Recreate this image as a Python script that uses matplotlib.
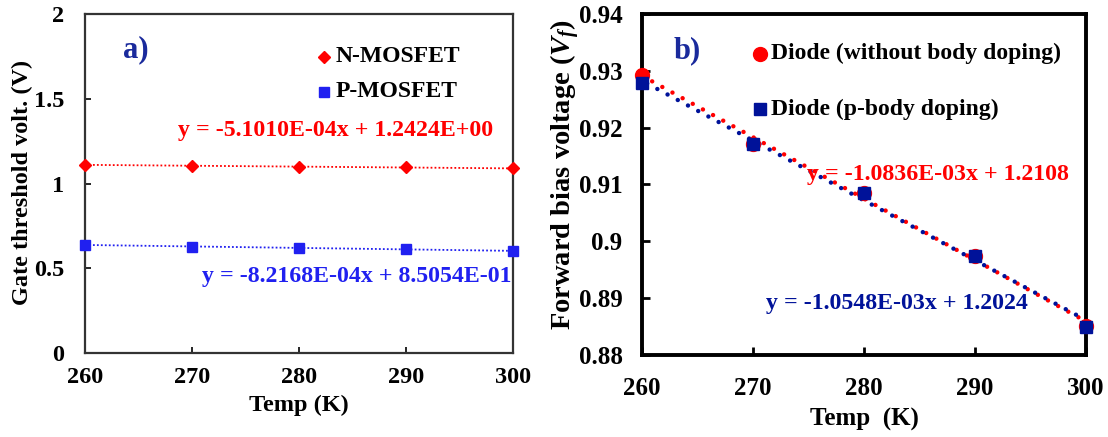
import numpy as np
import matplotlib
matplotlib.use("Agg")
import matplotlib.pyplot as plt

plt.rcParams['font.family'] = ['Liberation Serif', 'DejaVu Serif']
plt.rcParams['font.weight'] = 'bold'
plt.rcParams['mathtext.fontset'] = 'custom'
plt.rcParams['mathtext.it'] = 'Liberation Serif:italic:bold'
plt.rcParams['mathtext.rm'] = 'Liberation Serif:bold'

temps = [260, 270, 280, 290, 300]
n_mosfet = [1.110, 1.105, 1.099, 1.095, 1.089]
p_mosfet = [0.638, 0.628, 0.620, 0.611, 0.603]
diode_nobody = [0.9293, 0.9172, 0.9085, 0.8975, 0.8851]
diode_pbody = [0.9278, 0.9172, 0.9085, 0.8975, 0.8850]

eq_n = "y = -5.1010E-04x + 1.2424E+00"
eq_p = "y = -8.2168E-04x + 8.5054E-01"
eq_d1 = "y = -1.0836E-03x + 1.2108"
eq_d2 = "y = -1.0548E-03x + 1.2024"

W, H = 1108, 437
fig = plt.figure(figsize=(W/100, H/100), dpi=100)

def ax_rect(l, t, r, b):
    return [l/W, 1-b/H, (r-l)/W, (b-t)/H]

def fpos(px, py):
    return px/W, 1-py/H

RED = '#ff0000'
BLUE = '#2020f0'
NAVY = '#001299'
ABLUE = '#1a2a9c'

x = np.array(temps)
xf = np.linspace(260, 300, 200)

# Panel a
ax1 = fig.add_axes(ax_rect(85, 14, 513, 353))
for y, c, m, ms in [(n_mosfet, RED, 'D', 6), (p_mosfet, BLUE, 's', 7)]:
    p = np.polyfit(x, y, 1)
    ax1.plot(xf, np.polyval(p, xf), color=c, lw=1.3, dashes=(1, 1.2))
    ax1.plot(x, y, m, color=c, ms=ms, mec=c, clip_on=False, zorder=5)
ax1.set_xlim(260, 300)
ax1.set_ylim(0, 2)
ax1.set_xticks(temps)
ax1.set_yticks([0, 0.5, 1, 1.5, 2])
ax1.set_yticklabels(['0', '0.5', '1', '1.5', '2'])
ax1.tick_params(direction='in', labelsize=17.5, length=4, width=1.2)
ax1.tick_params(axis='x', pad=10)
ax1.tick_params(axis='y', pad=15)
for s in ax1.spines.values():
    s.set_linewidth(1.6); s.set_color('#333333')
fig.text(*fpos(299, 405), 'Temp (K)', fontsize=17.5, ha='center', va='center')
fig.text(*fpos(22, 182), 'Gate threshold volt. (V)', fontsize=17.5, ha='center', va='center', rotation=90)
ax1.text(264.75, 1.787, 'a)', color=ABLUE, fontsize=22, ha='center', va='center')
ax1.plot([282.3], [1.748], 'D', color=RED, ms=6)
ax1.text(283.4, 1.748, 'N-MOSFET', fontsize=17, va='center')
ax1.plot([282.3], [1.541], 's', color=BLUE, ms=7)
ax1.text(283.4, 1.541, 'P-MOSFET', fontsize=17, va='center')
ax1.text(268.7, 1.315, eq_n, fontsize=17.2, color=RED, ha='left', va='center')
ax1.text(299.9, 0.449, eq_p, fontsize=17.2, color=BLUE, ha='right', va='center')

# Panel b
ax2 = fig.add_axes(ax_rect(642, 14, 1086, 355))
for (y, c, m, ms, off) in [(diode_nobody, RED, 'o', 10, 0.0), (diode_pbody, NAVY, 's', 8.5, 1.3)]:
    p = np.polyfit(x, y, 1)
    ax2.plot(xf, np.polyval(p, xf), color=c, lw=3.2, linestyle=(off, (0.01, 2.6)), dash_capstyle='round')
    ax2.plot(x, y, m, color=c, ms=ms, mec=c, clip_on=False, zorder=5)
ax2.set_xlim(260, 300)
ax2.set_ylim(0.88, 0.94)
ax2.set_xticks(temps)
ax2.set_yticks([0.88, 0.89, 0.9, 0.91, 0.92, 0.93, 0.94])
ax2.set_yticklabels(['0.88', '0.89', '0.9', '0.91', '0.92', '0.93', '0.94'])
ax2.tick_params(direction='in', labelsize=18, length=6, width=2)
ax2.tick_params(axis='x', pad=16)
ax2.tick_params(axis='y', pad=14)
for s in ax2.spines.values():
    s.set_linewidth(2.8); s.set_color('black')
fig.text(*fpos(864, 419), 'Temp  (K)', fontsize=18, ha='center', va='center')
fig.text(*fpos(565, 174), r'Forward bias voltage ($V_f$)', fontsize=20.5, ha='center', va='center', rotation=90)
ax2.text(264.07, 0.9335, 'b)', color=ABLUE, fontsize=22, ha='center', va='center')
ax2.plot([270.6], [0.9330], 'o', color=RED, ms=10)
ax2.text(271.6, 0.9330, 'Diode (without body doping)', fontsize=17, va='center')
ax2.plot([270.6], [0.9233], 's', color=NAVY, ms=8.5)
ax2.text(271.6, 0.9233, 'Diode (p-body doping)', fontsize=17, va='center')
ax2.text(274.9, 0.9118, eq_d1, fontsize=17.2, color=RED, ha='left', va='center')
ax2.text(271.2, 0.889, eq_d2, fontsize=17.2, color=NAVY, ha='left', va='center')

fig.savefig('out.png', dpi=100)
